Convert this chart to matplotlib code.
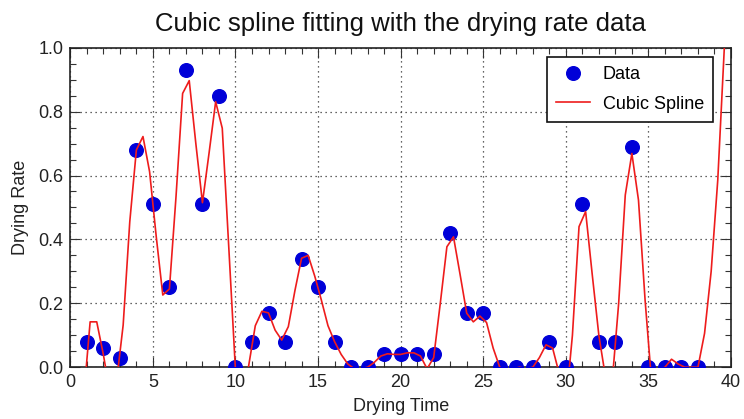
import numpy as np
import matplotlib
matplotlib.use("Agg")
import matplotlib.pyplot as plt
from matplotlib.ticker import MultipleLocator, FormatStrFormatter

plt.rcParams["font.family"] = ["Liberation Sans", "DejaVu Sans"]

# measured drying rate, one value per unit of drying time
drying_time = [1, 2, 3, 4, 5, 6, 7, 8, 9, 10,
               11, 12, 13, 14, 15, 16, 17, 18, 19, 20,
               21, 22, 23, 24, 25, 26, 27, 28, 29, 30,
               31, 32, 33, 34, 35, 36, 37, 38]
drying_rate = [0.08, 0.06, 0.03, 0.68, 0.51, 0.25, 0.93, 0.51, 0.85, 0.00,
               0.08, 0.17, 0.08, 0.34, 0.25, 0.08, 0.00, 0.00, 0.04, 0.04,
               0.04, 0.04, 0.42, 0.17, 0.17, 0.00, 0.00, 0.00, 0.08, 0.00,
               0.51, 0.08, 0.08, 0.69, 0.00, 0.00, 0.00, 0.00]

spline_start = 0.8
spline_step = 0.4
spline_rate = [-0.10, 0.142, 0.142, 0.04, -0.08, -0.045, 0.132, 0.455, 0.68, 0.722,
               0.612, 0.41, 0.226, 0.245, 0.534, 0.857, 0.897, 0.70, 0.515, 0.67,
               0.831, 0.748, 0.37, -0.01, -0.15, 0.005, 0.13, 0.175, 0.17, 0.116,
               0.085, 0.127, 0.24, 0.341, 0.35, 0.285, 0.21, 0.13, 0.08, 0.04,
               0.01, -0.005, -0.005, 0.0, 0.015, 0.035, 0.042, 0.04, 0.04, 0.045,
               0.045, 0.035, -0.005, 0.03, 0.2, 0.377, 0.408, 0.29, 0.169, 0.142,
               0.16, 0.14, 0.06, 0.0, -0.01, -0.005, 0.0, -0.005, 0.0, 0.03,
               0.07, 0.06, -0.02, -0.12, 0.1, 0.44, 0.487, 0.29, 0.1, -0.03,
               -0.05, 0.2, 0.539, 0.669, 0.523, 0.21, -0.05, -0.01, 0.0, 0.025,
               0.01, 0.0, 0.0, 0.0, 0.106, 0.3, 0.586, 1.003, 1.4]
spline_time = spline_start + spline_step * np.arange(len(spline_rate))


def main():
    fig = plt.figure(figsize=(7.44, 4.19), dpi=100)
    ax = fig.add_axes([0.0945, 0.1236, 0.888, 0.7625])

    ax.plot(drying_time, drying_rate, "o", color="#0000d8", markersize=9.8,
            label="Data", zorder=3)
    ax.plot(spline_time, spline_rate, "-", color="#ee1c1c", linewidth=1.2,
            label="Cubic Spline", zorder=4)

    ax.set_xlim(0, 40)
    ax.set_ylim(0, 1.0)
    ax.xaxis.set_major_locator(MultipleLocator(5))
    ax.xaxis.set_minor_locator(MultipleLocator(1))
    ax.yaxis.set_major_locator(MultipleLocator(0.2))
    ax.yaxis.set_minor_locator(MultipleLocator(0.05))
    ax.yaxis.set_major_formatter(FormatStrFormatter("%.1f"))
    ax.tick_params(which="both", direction="in", top=True, right=True,
                   labelsize=13, width=0.8, colors="#333333", labelcolor="#222222")
    ax.tick_params(which="major", length=7, pad=5)
    ax.tick_params(which="minor", length=4)
    ax.grid(True, which="major", linestyle=(0, (1, 3)), color="#333333",
            linewidth=0.9)
    for sp in ax.spines.values():
        sp.set_linewidth(1.2)
        sp.set_color("#222222")

    ax.set_title("Cubic spline fitting with the drying rate data", fontsize=18.5,
                 pad=12, color="#111111")
    ax.set_xlabel("Drying Time", fontsize=13, labelpad=5, color="#222222")
    ax.set_ylabel("Drying Rate", fontsize=13, labelpad=7, color="#222222")

    leg = ax.legend(loc="upper right", bbox_to_anchor=(0.973, 0.971),
                    borderaxespad=0, fontsize=13, fancybox=False,
                    edgecolor="#111111", framealpha=1, borderpad=0.5,
                    labelspacing=0.7, handlelength=1.9, handletextpad=0.7,
                    numpoints=1)
    leg.get_frame().set_linewidth(1.2)

    fig.savefig("out.png", dpi=100)
    plt.close(fig)


if __name__ == "__main__":
    main()
